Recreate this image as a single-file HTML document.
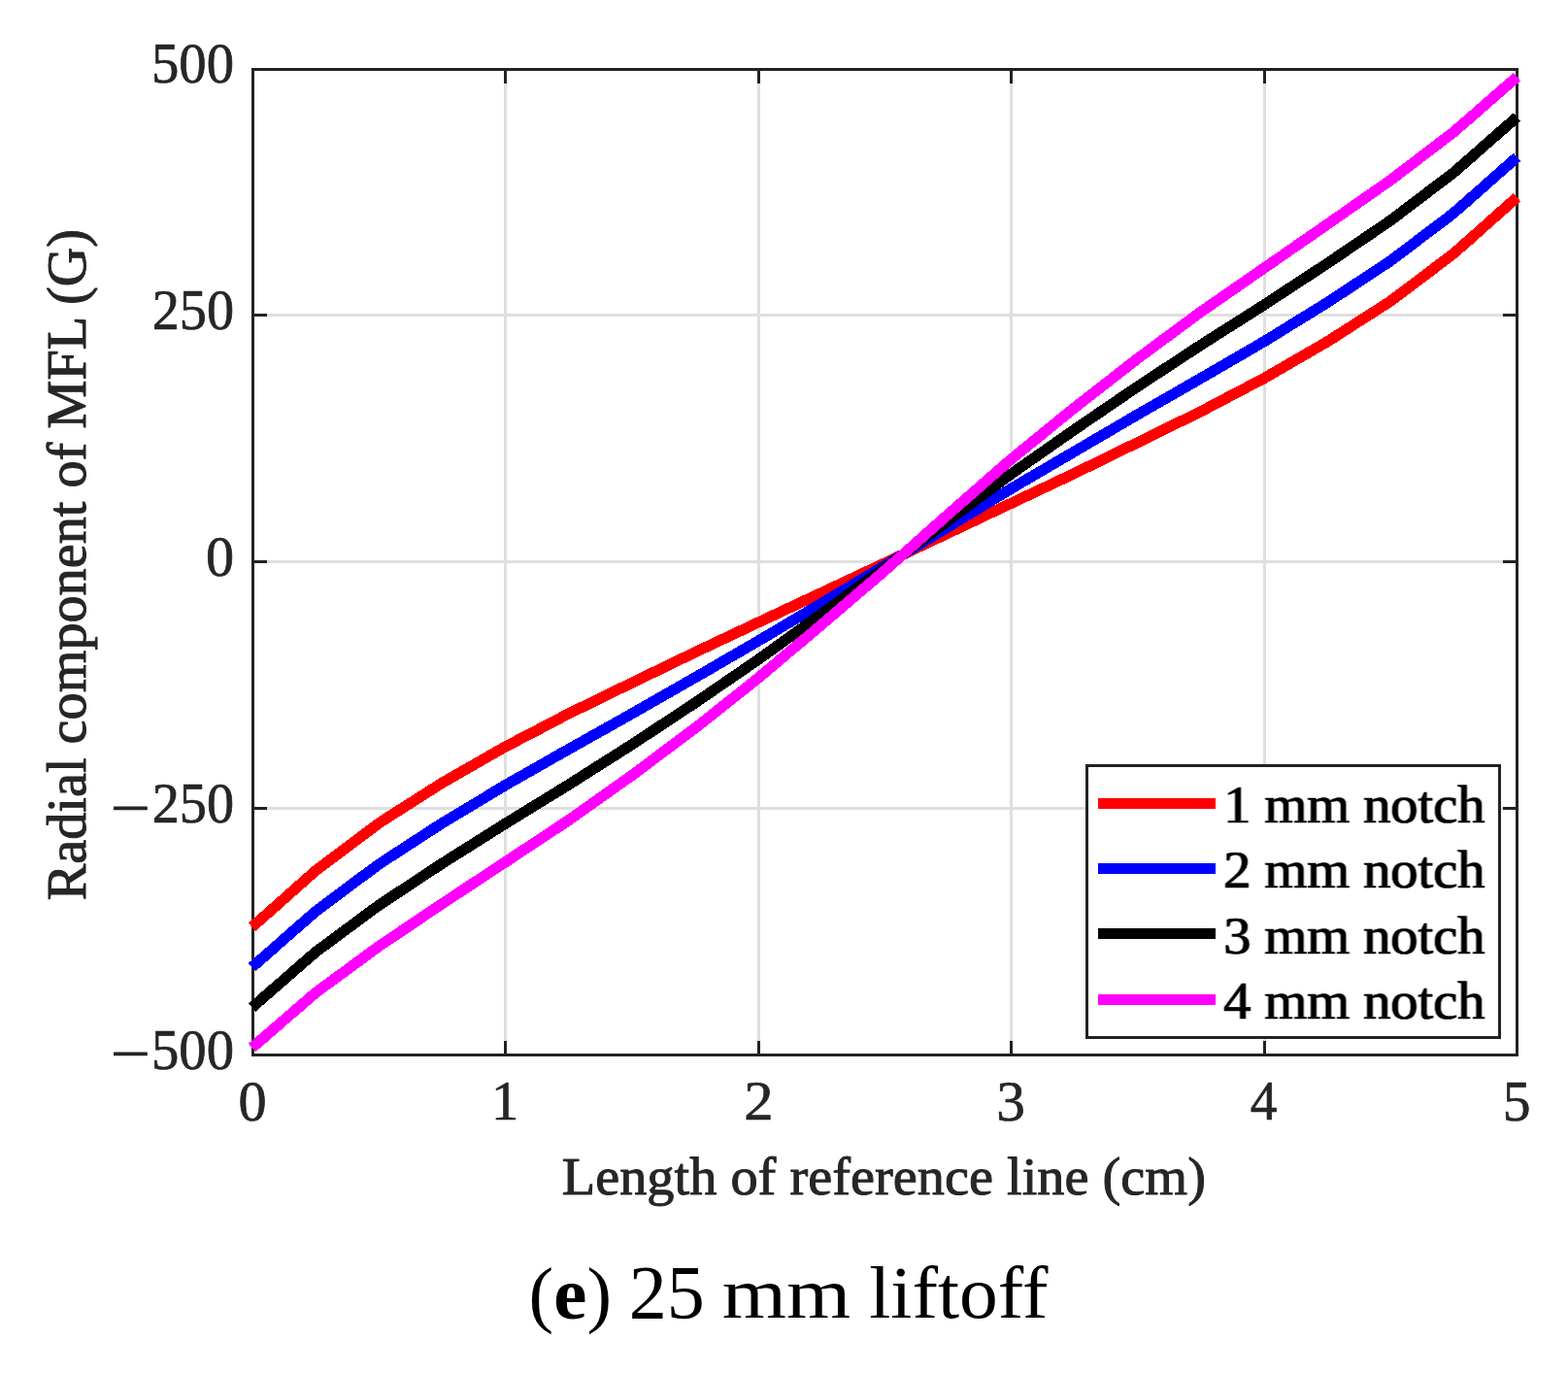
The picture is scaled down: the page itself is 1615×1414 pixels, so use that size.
<!DOCTYPE html>
<html lang="en"><head><meta charset="utf-8"><title>(e) 25 mm liftoff</title>
<style>html,body{margin:0;padding:0;background:#fff;}body{width:1615px;height:1414px;overflow:hidden;}svg{display:block;}text{font-family:"Liberation Serif",serif;}</style>
</head><body>
<svg width="1615" height="1414" viewBox="0 0 1615 1414" role="img" aria-label="Radial component of MFL versus length of reference line, 25 mm liftoff">
<defs><filter id="hx" x="-5%" y="-30%" width="110%" height="160%" color-interpolation-filters="sRGB"><feMorphology operator="dilate" radius="1 0" in="SourceGraphic" result="d"/><feComposite in="d" in2="SourceGraphic" operator="arithmetic" k1="0" k2="0.4" k3="0.6" k4="0"/></filter></defs>
<rect width="1615" height="1414" fill="#fff"/>
<g fill="#dfdfdf" shape-rendering="crispEdges">
<rect x="519" y="73" width="3" height="1012"/>
<rect x="780" y="73" width="3" height="1012"/>
<rect x="1040" y="73" width="3" height="1012"/>
<rect x="1301" y="73" width="3" height="1012"/>
<rect x="262" y="323" width="1299" height="3"/>
<rect x="262" y="577" width="1299" height="3"/>
<rect x="262" y="831" width="1299" height="3"/>
</g>
<g fill="#222222" shape-rendering="crispEdges">
<rect x="259" y="70" width="1305" height="3"/>
<rect x="259" y="1085" width="1305" height="3"/>
<rect x="259" y="70" width="3" height="1018"/>
<rect x="1561" y="70" width="3" height="1018"/>
<rect x="519" y="70" width="3" height="16"/>
<rect x="519" y="1072" width="3" height="16"/>
<rect x="780" y="70" width="3" height="16"/>
<rect x="780" y="1072" width="3" height="16"/>
<rect x="1040" y="70" width="3" height="16"/>
<rect x="1040" y="1072" width="3" height="16"/>
<rect x="1301" y="70" width="3" height="16"/>
<rect x="1301" y="1072" width="3" height="16"/>
<rect x="259" y="323" width="16" height="3"/>
<rect x="1548" y="323" width="16" height="3"/>
<rect x="259" y="577" width="16" height="3"/>
<rect x="1548" y="577" width="16" height="3"/>
<rect x="259" y="831" width="16" height="3"/>
<rect x="1548" y="831" width="16" height="3"/>
</g>
<g fill="none" stroke-width="11.2" stroke-linejoin="round" stroke-linecap="butt" shape-rendering="crispEdges">
<polyline points="259.6,954.8 324.7,897.0 389.9,848.0 455.0,806.5 520.2,769.2 585.3,735.2 650.5,703.4 715.6,671.9 780.8,641.1 845.9,610.6 911.1,580.0 976.2,549.2 1041.3,518.4 1106.5,487.6 1171.6,455.8 1236.8,423.8 1301.9,389.6 1367.1,351.9 1432.2,310.2 1497.4,261.0 1562.5,203.2" stroke="#ff0000"/>
<polyline points="259.6,996.1 324.7,938.9 389.9,890.3 455.0,848.0 520.2,808.8 585.3,771.8 650.5,735.2 715.6,698.0 780.8,660.2 845.9,621.6 911.1,582.6 976.2,542.8 1041.3,503.3 1106.5,465.1 1171.6,427.0 1236.8,389.6 1301.9,351.8 1367.1,311.6 1432.2,268.7 1497.4,219.3 1562.5,161.8" stroke="#0000ff"/>
<polyline points="259.6,1037.5 324.7,980.8 389.9,932.5 455.0,889.5 520.2,848.4 585.3,808.4 650.5,767.0 715.6,724.1 780.8,679.4 845.9,632.6 911.1,585.2 976.2,536.4 1041.3,488.2 1106.5,442.6 1171.6,398.2 1236.8,355.4 1301.9,314.0 1367.1,271.3 1432.2,227.1 1497.4,177.6 1562.5,120.5" stroke="#000000"/>
<polyline points="259.6,1079.0 324.7,1022.7 389.9,974.8 455.0,931.0 520.2,888.0 585.3,845.0 650.5,798.8 715.6,750.2 780.8,698.4 845.9,643.6 911.1,587.8 976.2,530.0 1041.3,473.1 1106.5,420.1 1171.6,369.4 1236.8,321.2 1301.9,276.2 1367.1,231.0 1432.2,185.6 1497.4,135.9 1562.5,79.1" stroke="#ff00ff"/>
</g>
<g shape-rendering="crispEdges">
<rect x="1119.5" y="788.5" width="425" height="280" fill="#fff" stroke="#222222" stroke-width="3"/>
<rect x="1131" y="822" width="121" height="11" fill="#ff0000"/>
<rect x="1131" y="889" width="121" height="11" fill="#0000ff"/>
<rect x="1131" y="956" width="121" height="11" fill="#000000"/>
<rect x="1131" y="1024" width="121" height="11" fill="#ff00ff"/>
</g>
<text transform="matrix(0.9780 0 0 1.0025 155.97 85.00)" font-size="58" fill="#262626" stroke="#262626" stroke-width="0.7" stroke-linejoin="round">500</text>
<text transform="matrix(0.9692 0 0 1.0025 156.72 338.97)" font-size="58" fill="#262626" stroke="#262626" stroke-width="0.7" stroke-linejoin="round">250</text>
<text transform="matrix(1.0040 0 0 1.0025 211.99 592.94)" font-size="58" fill="#262626" stroke="#262626" stroke-width="0.7" stroke-linejoin="round">0</text>
<text transform="matrix(1.2577 0 0 1.0286 113.86 851.85)" font-size="58" fill="#262626" stroke="#262626" stroke-width="0.7" stroke-linejoin="round">−</text>
<text transform="matrix(0.9692 0 0 1.0025 156.72 846.91)" font-size="58" fill="#262626" stroke="#262626" stroke-width="0.7" stroke-linejoin="round">250</text>
<text transform="matrix(1.2577 0 0 1.0286 113.86 1105.15)" font-size="58" fill="#262626" stroke="#262626" stroke-width="0.7" stroke-linejoin="round">−</text>
<text transform="matrix(0.9780 0 0 1.0025 155.97 1100.88)" font-size="58" fill="#262626" stroke="#262626" stroke-width="0.7" stroke-linejoin="round">500</text>
<text transform="matrix(1.0040 0 0 1.0025 245.49 1153.90)" font-size="58" fill="#262626" stroke="#262626" stroke-width="0.7" stroke-linejoin="round">0</text>
<text transform="matrix(0.9762 0 0 0.9884 505.96 1152.85)" font-size="58" fill="#262626" stroke="#262626" stroke-width="0.7" stroke-linejoin="round">1</text>
<text transform="matrix(1.0458 0 0 0.9821 766.15 1152.85)" font-size="58" fill="#262626" stroke="#262626" stroke-width="0.7" stroke-linejoin="round">2</text>
<text transform="matrix(1.0245 0 0 1.0088 1026.34 1153.89)" font-size="58" fill="#262626" stroke="#262626" stroke-width="0.7" stroke-linejoin="round">3</text>
<text transform="matrix(0.9586 0 0 0.9884 1287.78 1152.85)" font-size="58" fill="#262626" stroke="#262626" stroke-width="0.7" stroke-linejoin="round">4</text>
<text transform="matrix(0.9917 0 0 1.0217 1547.72 1153.88)" font-size="58" fill="#262626" stroke="#262626" stroke-width="0.7" stroke-linejoin="round">5</text>
<text transform="matrix(1.0061 0 0 0.9850 578.74 1229.70)" font-size="56" fill="#262626" stroke="#262626" stroke-width="1.0" stroke-linejoin="round">Length of reference line (cm)</text>
<text transform="matrix(0 -1.0043 1.0000 0 87.80 927.26)" font-size="56" fill="#262626" stroke="#262626" stroke-width="1.0" stroke-linejoin="round">Radial component of MFL (G)</text>
<text transform="matrix(1.0068 0 0 0.9750 1260.13 847.00)" font-size="56" fill="#000" stroke="#000" stroke-width="0.5" stroke-linejoin="round" filter="url(#hx)">1 mm notch</text>
<text transform="matrix(1.0068 0 0 0.9750 1260.13 914.30)" font-size="56" fill="#000" stroke="#000" stroke-width="0.5" stroke-linejoin="round" filter="url(#hx)">2 mm notch</text>
<text transform="matrix(1.0068 0 0 0.9750 1260.13 981.60)" font-size="56" fill="#000" stroke="#000" stroke-width="0.5" stroke-linejoin="round" filter="url(#hx)">3 mm notch</text>
<text transform="matrix(1.0068 0 0 0.9750 1260.13 1048.90)" font-size="56" fill="#000" stroke="#000" stroke-width="0.5" stroke-linejoin="round" filter="url(#hx)">4 mm notch</text>
<text transform="matrix(1.0122 0 0 0.9978 544.61 1358.03)" font-size="76" fill="#000">(<tspan font-weight="bold">e</tspan>) </text>
<text transform="matrix(1.0280 0 0 1.0157 647.76 1356.74)" font-size="76" fill="#000">25 </text>
<text transform="matrix(1.1203 0 0 0.9846 743.82 1356.80)" font-size="76" fill="#000">mm </text>
<text transform="matrix(1.0470 0 0 1.0120 895.23 1356.74)" font-size="76" fill="#000">liftoff</text>
</svg>
</body></html>
